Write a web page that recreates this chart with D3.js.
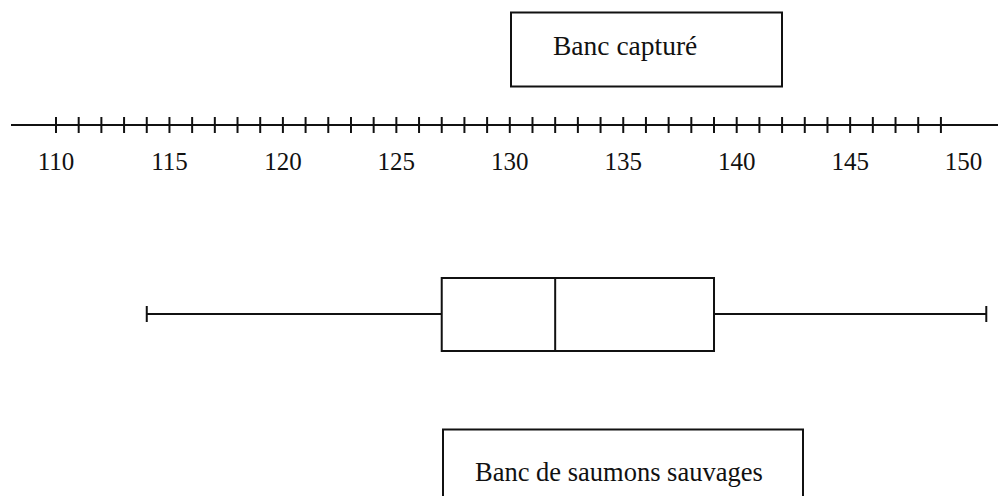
<!DOCTYPE html>
<html>
<head>
<meta charset="utf-8">
<script src="https://cdn.jsdelivr.net/npm/d3@7"></script>
<style>
  body { margin: 0; background: #fff; }
  #canvas { width: 998px; height: 496px; }
  text { font-family: "Liberation Serif", serif; fill: #111; }
</style>
</head>
<body>
<div id="canvas"></div>
<script>
var canvasWidth = 998,
    canvasHeight = 496;

// axis data
var tickValues = d3.range(110, 150);           // small ticks 110..149
var tickLabels = [110, 115, 120, 125, 130, 135, 140, 145, 150];

// box plot : min, Q1, median, Q3, max
var boxStats = [114, 127, 132, 139, 151];

// labels
var topLabel = 'Banc capturé';
var bottomLabel = 'Banc de saumons sauvages';

var svg = d3.select('#canvas')
	.append('svg')
	.attr('width', canvasWidth)
	.attr('height', canvasHeight);

var x = d3.scaleLinear()
    .domain([110, 150])
    .range([56, 963.6]);

var axisY = 125;

// main line
svg.append('line')
    .attr('x1', 11).attr('x2', canvasWidth)
    .attr('y1', axisY).attr('y2', axisY)
    .style('stroke', '#111').style('stroke-width', 2);

svg.selectAll('.tick')
    .data(tickValues)
    .enter().append('line')
    .attr('class', 'tick')
    .attr('x1', function(d){ return x(d); })
    .attr('x2', function(d){ return x(d); })
    .attr('y1', axisY - 8).attr('y2', axisY + 8)
    .style('stroke', '#111').style('stroke-width', 2);

svg.selectAll('.lbl')
    .data(tickLabels)
    .enter().append('text')
    .attr('class', 'lbl')
    .attr('x', function(d){ return x(d); })
    .attr('y', 170)
    .attr('text-anchor', 'middle')
    .style('font-size', '25px')
    .text(function(d){ return d; });

// top label box
svg.append('rect')
    .attr('x', 511).attr('y', 12.5)
    .attr('width', 271).attr('height', 74)
    .style('fill', 'none').style('stroke', '#111').style('stroke-width', 2);
svg.append('text')
    .attr('x', 553).attr('y', 55)
    .style('font-size', '27.5px')
    .text(topLabel);

// box plot
var bY = 314, boxTop = 278, boxBot = 351;
var g = svg.append('g').style('stroke', '#111').style('stroke-width', 2).style('fill', 'none');

g.append('line')
    .attr('x1', x(boxStats[0])).attr('x2', x(boxStats[1]))
    .attr('y1', bY).attr('y2', bY);
g.append('line')
    .attr('x1', x(boxStats[3])).attr('x2', x(boxStats[4]))
    .attr('y1', bY).attr('y2', bY);
[boxStats[0], boxStats[4]].forEach(function(v){
    g.append('line')
        .attr('x1', x(v)).attr('x2', x(v))
        .attr('y1', bY - 8).attr('y2', bY + 8);
});
g.append('rect')
    .attr('x', x(boxStats[1])).attr('y', boxTop)
    .attr('width', x(boxStats[3]) - x(boxStats[1]))
    .attr('height', boxBot - boxTop);
g.append('line')
    .attr('x1', x(boxStats[2])).attr('x2', x(boxStats[2]))
    .attr('y1', boxTop).attr('y2', boxBot);

// bottom label box
svg.append('rect')
    .attr('x', 443).attr('y', 429.5)
    .attr('width', 360).attr('height', 80)
    .style('fill', 'none').style('stroke', '#111').style('stroke-width', 2);
svg.append('text')
    .attr('x', 475).attr('y', 481)
    .style('font-size', '26.5px')
    .text(bottomLabel);
</script>
</body>
</html>
